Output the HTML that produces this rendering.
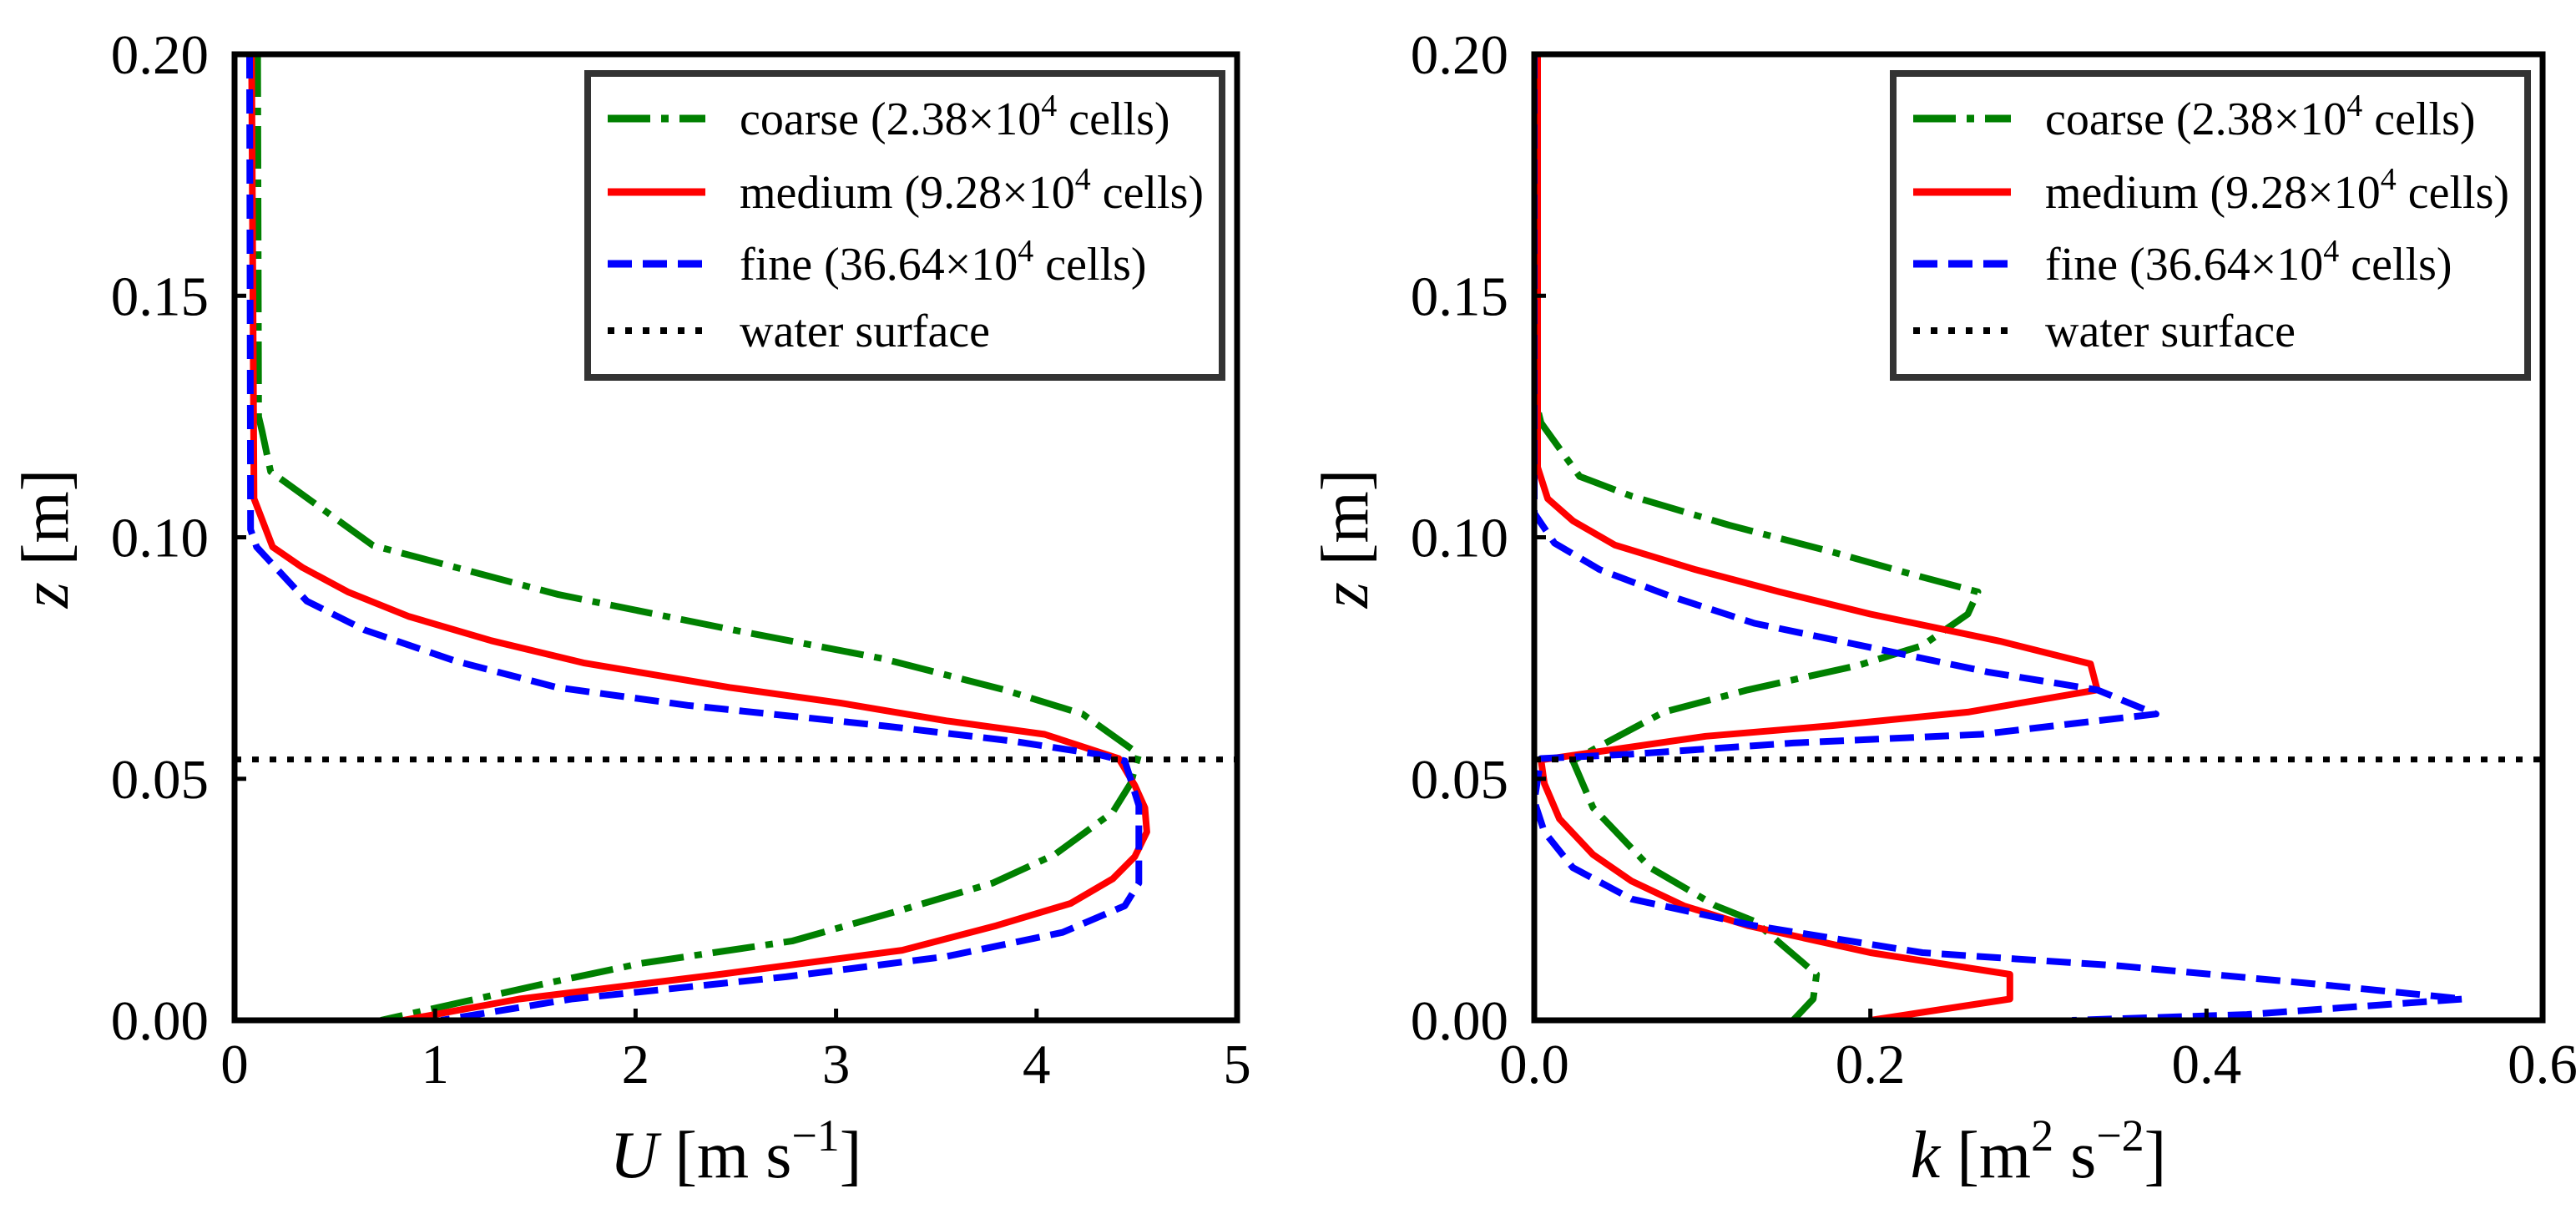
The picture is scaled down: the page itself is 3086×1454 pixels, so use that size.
<!DOCTYPE html>
<html><head><meta charset="utf-8"><style>
html,body{margin:0;padding:0;background:#fff}
svg{display:block}
text{font-family:"Liberation Serif","DejaVu Serif",serif;fill:#000}
</style></head><body>
<svg id="fig" width="3086" height="1454" viewBox="0 0 3086 1454" xmlns="http://www.w3.org/2000/svg"></svg>
<script>
// ---- data ----
const zTicks = [0, 0.05, 0.10, 0.15, 0.20];
const zTickLabels = ["0.00", "0.05", "0.10", "0.15", "0.20"];
const uTicks = [0, 1, 2, 3, 4, 5];
const uTickLabels = ["0", "1", "2", "3", "4", "5"];
const kTicks = [0, 0.2, 0.4, 0.6];
const kTickLabels = ["0.0", "0.2", "0.4", "0.6"];
const waterSurface = 0.054;

const uCoarseZ = [0.200,0.125,0.122,0.1136,0.0983,0.0882,0.0808,0.0749,0.0684,0.0634,0.0551,0.0491,0.0431,0.0343,0.0284,0.0224,0.0164,0.0118,0.0076,0.004,0];
const uCoarse  = [0.115,0.12,0.137,0.18,0.69,1.61,2.49,3.23,3.84,4.23,4.51,4.47,4.38,4.09,3.78,3.29,2.78,2.03,1.55,1.16,0.73];
const uMediumZ = [0.200,0.108,0.098,0.0937,0.0887,0.0836,0.0786,0.074,0.0689,0.0657,0.062,0.0592,0.0542,0.0486,0.044,0.039,0.0339,0.0293,0.0242,0.0196,0.0145,0.0095,0.0044,0];
const uMedium  = [0.085,0.097,0.19,0.34,0.565,0.87,1.28,1.74,2.47,3.02,3.55,4.04,4.41,4.49,4.54,4.55,4.49,4.38,4.17,3.80,3.33,2.42,1.42,0.84];
const uFineZ = [0.200,0.1016,0.098,0.0868,0.0808,0.0744,0.0689,0.0652,0.061,0.0578,0.0551,0.0537,0.0445,0.0284,0.0237,0.0182,0.0132,0.009,0.0044,0];
const uFine  = [0.075,0.08,0.11,0.36,0.65,1.10,1.61,2.26,3.23,3.88,4.30,4.44,4.51,4.51,4.44,4.13,3.55,2.75,1.68,1.03];

const kCoarseZ = [0.200,0.128,0.1237,0.1126,0.1085,0.1025,0.097,0.0924,0.0887,0.0841,0.0776,0.0735,0.0684,0.0638,0.0564,0.0537,0.044,0.0316,0.0237,0.0205,0.0095,0.0044,0];
const kCoarse  = [0,0.001,0.004,0.027,0.058,0.116,0.177,0.224,0.264,0.258,0.231,0.193,0.127,0.077,0.037,0.023,0.035,0.069,0.108,0.131,0.168,0.166,0.154];
const kMediumZ = [0.200,0.1145,0.108,0.1034,0.0984,0.0933,0.0887,0.0841,0.0785,0.0738,0.0684,0.0638,0.061,0.0588,0.0539,0.049,0.0417,0.0343,0.0288,0.0237,0.0196,0.014,0.0095,0.0044,0];
const kMedium  = [0.002,0.002,0.008,0.023,0.048,0.096,0.146,0.2,0.277,0.331,0.335,0.258,0.177,0.102,0.004,0.006,0.015,0.035,0.058,0.089,0.127,0.2,0.283,0.283,0.2];
const kFineZ = [0.200,0.105,0.0988,0.0933,0.0878,0.0822,0.0772,0.0721,0.0684,0.0634,0.062,0.0592,0.0574,0.0551,0.0542,0.0454,0.039,0.0316,0.0251,0.0196,0.014,0.0113,0.0076,0.0044,0.0012,0];
const kFine  = [0,0,0.012,0.039,0.081,0.131,0.2,0.27,0.335,0.37,0.335,0.266,0.154,0.058,0.004,0,0.006,0.023,0.058,0.131,0.231,0.347,0.462,0.553,0.424,0.32];

const legendLabels = ["coarse (2.38×10", "medium (9.28×10", "fine (36.64×10"];

// ---- drawing ----
const NS = "http://www.w3.org/2000/svg";
const svg = document.getElementById("fig");
function mk(tag, attrs, parent) {
  const e = document.createElementNS(NS, tag);
  for (const k in attrs) e.setAttribute(k, attrs[k]);
  (parent || svg).appendChild(e);
  return e;
}
const Y0 = 1222, Y1 = 65;
function yScale(z) { return Y0 - (z / 0.2) * (Y0 - Y1); }

const styles = {
  coarse: {stroke: "#008000", dash: "51 13 9 13"},
  medium: {stroke: "#ff0000", dash: ""},
  fine: {stroke: "#0000ff", dash: "29 13"}
};

function panel(opt) {
  const g = mk("g", {});
  
  
  const xs = v => opt.x0 + (v - opt.min) / (opt.max - opt.min) * (opt.x1 - opt.x0);
  const cid = opt.name + "-clip";
  const defs = mk("defs", {}, g);
  const cp = mk("clipPath", {id: cid}, defs);
  mk("rect", {x: opt.x0, y: Y1, width: opt.x1 - opt.x0, height: Y0 - Y1}, cp);

  const series = [
    ["coarse", opt.cz, opt.cv], ["medium", opt.mz, opt.mv], ["fine", opt.fz, opt.fv]
  ];
  series.forEach(s => {
    const st = styles[s[0]];
    const d = s[1].map((z, i) => (i ? "L" : "M") + xs(s[2][i]).toFixed(1) + " " + yScale(z).toFixed(1)).join(" ");
    const p = mk("path", {d: d, fill: "none", stroke: st.stroke, "stroke-width": 8, "stroke-dasharray": st.dash, "stroke-linejoin": "round", "clip-path": "url(#" + cid + ")"}, g);
    
    
  });
  const ws = mk("line", {x1: opt.x0, x2: opt.x1, y1: yScale(waterSurface), y2: yScale(waterSurface), stroke: "#000", "stroke-width": 7, "stroke-dasharray": "8 13"}, g);
  
  

  // frame
  const fr = mk("rect", {x: opt.x0, y: Y1, width: opt.x1 - opt.x0, height: Y0 - Y1, fill: "none", stroke: "#000", "stroke-width": 7}, g);
  
  

  // y ticks
  zTicks.forEach((z, i) => {
    const y = yScale(z);
    mk("line", {x1: opt.x0, x2: opt.x0 + 14, y1: y, y2: y, stroke: "#000", "stroke-width": 5}, g);
    const t = mk("text", {x: opt.x0 - 31, y: y + 23, "font-size": 67, "text-anchor": "end"}, g);
    t.textContent = zTickLabels[i];
    
    
  });
  // x ticks
  opt.ticks.forEach((v, i) => {
    const x = xs(v);
    mk("line", {x1: x, x2: x, y1: Y0, y2: Y0 - 14, stroke: "#000", "stroke-width": 5}, g);
    const t = mk("text", {x: x, y: Y0 + 75, "font-size": 67, "text-anchor": "middle"}, g);
    t.textContent = opt.tickLabels[i];
    
    
  });
  // y label
  const yl = mk("text", {x: 0, y: 0, "font-size": 80, "text-anchor": "middle", transform: "translate(" + (opt.x0 - 200) + ",645) rotate(-90)"}, g);
  yl.innerHTML = '<tspan font-style="italic">z</tspan> [m]';
  
  
  // x label
  const xl = mk("text", {x: (opt.x0 + opt.x1) / 2, y: 1410, "font-size": 80, "text-anchor": "middle"}, g);
  xl.innerHTML = opt.xlabel;
  
  

  // legend
  const lx = opt.x1 - 778, ly = 88;
  const lg = mk("g", {}, g);
  
  
  mk("rect", {x: lx, y: ly, width: 760, height: 364, fill: "#fff", stroke: "#333", "stroke-width": 8}, lg);
  const rows = [142, 230, 316, 396];
  const keys = ["coarse", "medium", "fine"];
  keys.forEach((k, i) => {
    const st = styles[k];
    mk("line", {x1: lx + 24, x2: lx + 141, y1: rows[i], y2: rows[i], stroke: st.stroke, "stroke-width": 9, "stroke-dasharray": st.dash}, lg);
    const t = mk("text", {x: lx + 182, y: rows[i] + 19, "font-size": 56}, lg);
    t.innerHTML = legendLabels[i] + '<tspan dy="-22" font-size="38">4</tspan><tspan dy="22"> cells)</tspan>';
    
    
  });
  mk("line", {x1: lx + 24, x2: lx + 141, y1: rows[3], y2: rows[3], stroke: "#000", "stroke-width": 8, "stroke-dasharray": "8 13"}, lg);
  const wt = mk("text", {x: lx + 182, y: rows[3] + 19, "font-size": 56}, lg);
  wt.textContent = "water surface";
  
  
}

panel({name: "velocity-panel", x0: 281, x1: 1482, min: 0, max: 5, ticks: uTicks, tickLabels: uTickLabels,
  cz: uCoarseZ, cv: uCoarse, mz: uMediumZ, mv: uMedium, fz: uFineZ, fv: uFine,
  xlabel: '<tspan font-style="italic">U</tspan> [m s<tspan dy="-32" font-size="54">−1</tspan><tspan dy="32">]</tspan>'});
panel({name: "tke-panel", x0: 1838, x1: 3046, min: 0, max: 0.6, ticks: kTicks, tickLabels: kTickLabels,
  cz: kCoarseZ, cv: kCoarse, mz: kMediumZ, mv: kMedium, fz: kFineZ, fv: kFine,
  xlabel: '<tspan font-style="italic">k</tspan> [m<tspan dy="-32" font-size="54">2</tspan><tspan dy="32"> s</tspan><tspan dy="-32" font-size="54">−2</tspan><tspan dy="32">]</tspan>'});
</script>
</body></html>
